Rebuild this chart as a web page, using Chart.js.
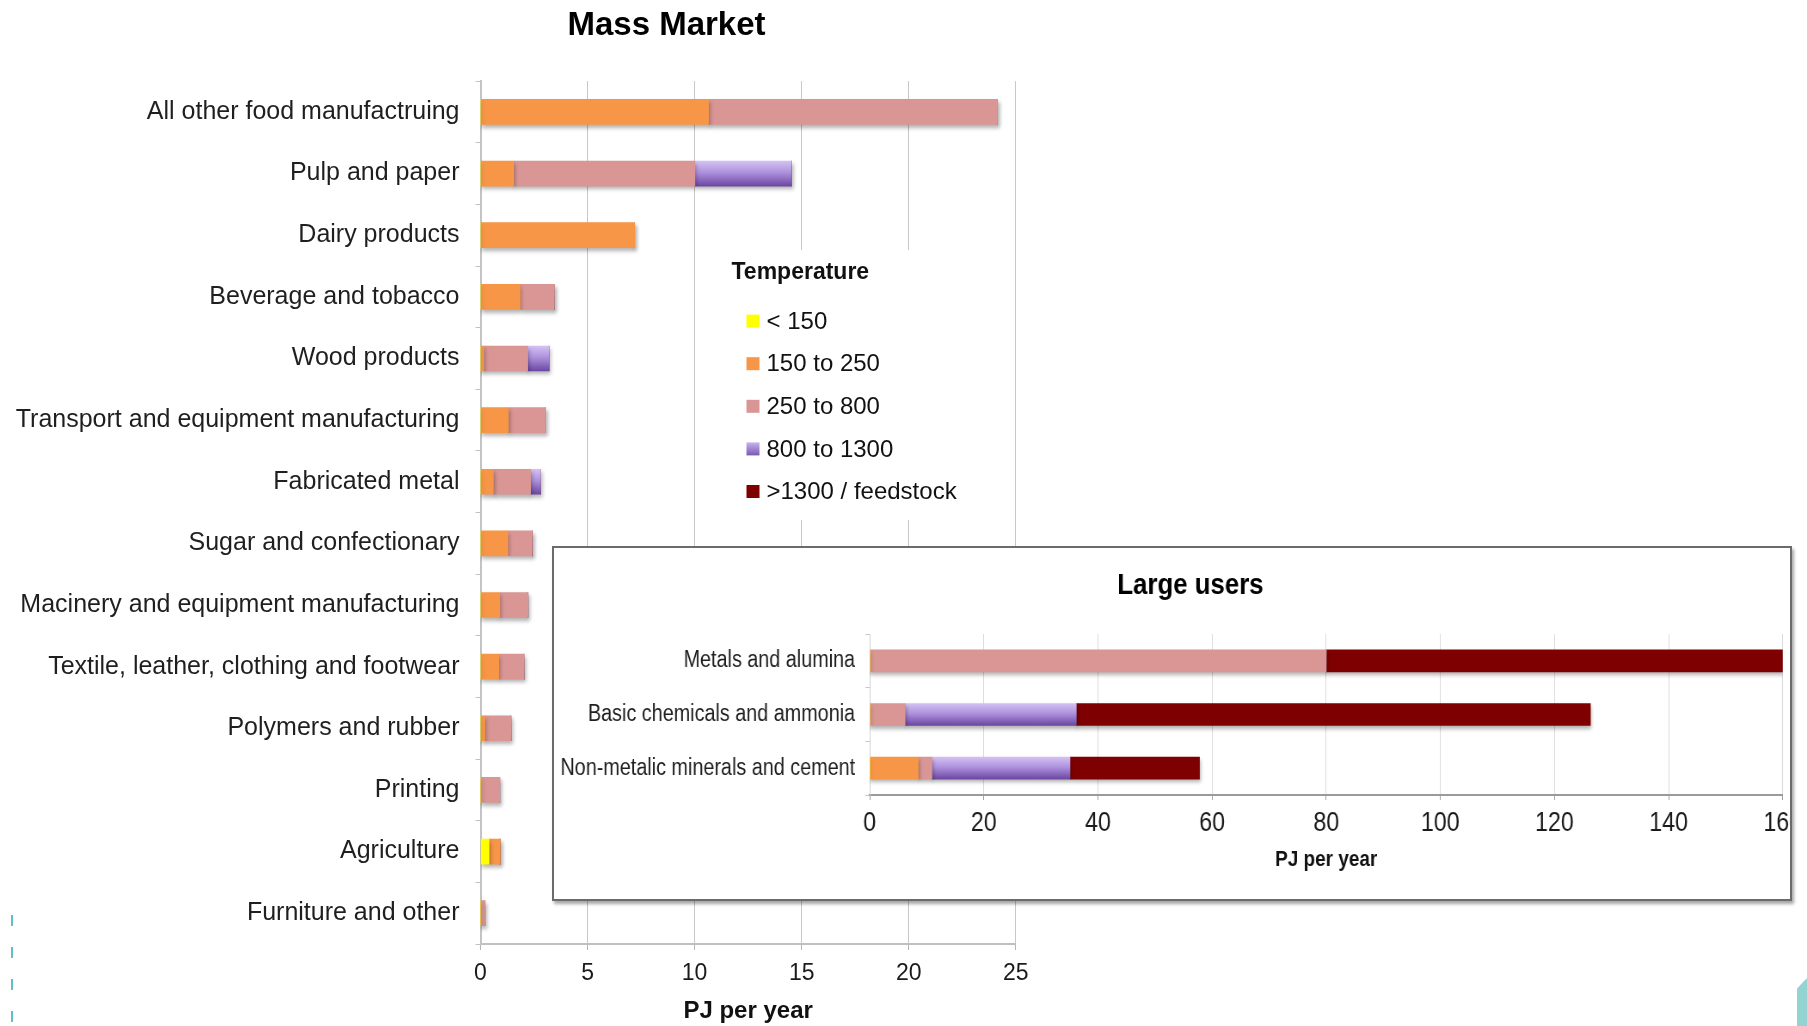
<!DOCTYPE html>
<html>
<head>
<meta charset="utf-8">
<title>Process heat demand by temperature</title>
<script src="https://cdn.jsdelivr.net/npm/chart.js@4.4.1/dist/chart.umd.min.js"></script>
<style>
  html, body { margin: 0; padding: 0; background: #fff; }
  body { position: relative; width: 1807px; height: 1026px; overflow: hidden; }
  #massWrap { position: absolute; left: 0; top: 0; width: 1333px; height: 1026px; }
  #largeBox { position: absolute; left: 552px; top: 546px; width: 1236px; height: 351px;
              border: 2px solid #6b6b6b; background: #fff; overflow: hidden;
              box-shadow: 2px 3px 3px rgba(0,0,0,0.35); }
  #largeWrap { position: absolute; left: 0; top: 0; width: 1480px; height: 351px;
               transform: scaleX(0.86); transform-origin: 0 0; }
  .dash { position: absolute; left: 11px; top: 915px; width: 2px; height: 111px;
          background: repeating-linear-gradient(to bottom, #5fc0cc 0 11px, transparent 11px 32px); }
  .corner { position: absolute; left: 1797px; top: 978px; width: 10px; height: 48px;
            background: #93d4d2; clip-path: polygon(100% 0, 100% 100%, 0 100%, 0 22%); }
</style>
</head>
<body>
<div id="massWrap"><canvas id="massChart"></canvas></div>
<div id="largeBox"><div id="largeWrap"><canvas id="largeChart"></canvas></div></div>
<div class="dash"></div>
<div class="corner"></div>
<script>
// Temperature bands (degrees C)
const tempBands = ['< 150', '150 to 250', '250 to 800', '800 to 1300', '>1300 / feedstock'];

// Mass market sectors, PJ per year
const massCategories = [
  'All other food manufactruing', 'Pulp and paper', 'Dairy products', 'Beverage and tobacco',
  'Wood products', 'Transport and equipment manufacturing', 'Fabricated metal',
  'Sugar and confectionary', 'Macinery and equipment manufacturing',
  'Textile, leather, clothing and footwear', 'Polymers and rubber', 'Printing',
  'Agriculture', 'Furniture and other'
];
const massBelow150   = [0,     0,    0,   0,    0,    0,    0,    0,    0,    0,    0,    0,   0.40, 0];
const mass150to250   = [10.65, 1.55, 7.2, 1.85, 0.15, 1.30, 0.60, 1.28, 0.90, 0.85, 0.20, 0,   0.52, 0];
const mass250to800   = [13.5,  8.46, 0,   1.60, 2.05, 1.74, 1.74, 1.14, 1.31, 1.18, 1.22, 0.9, 0,    0.2];
const mass800to1300  = [0,     4.50, 0,   0,    1.00, 0,    0.46, 0,    0,    0,    0,    0,   0,    0];
const massAbove1300  = [0,     0,    0,   0,    0,    0,    0,    0,    0,    0,    0,    0,   0,    0];

// Large users, PJ per year
const largeCategories = ['Metals and alumina', 'Basic chemicals and ammonia', 'Non-metalic minerals and cement'];
const largeBelow150  = [0,  0,    0];
const large150to250  = [0,  0,    8.5];
const large250to800  = [80, 6.2,  2.4];
const large800to1300 = [0,  30.0, 24.2];
const largeAbove1300 = [80, 90.1, 22.7];

const massSeries  = [massBelow150, mass150to250, mass250to800, mass800to1300, massAbove1300];
const largeSeries = [largeBelow150, large150to250, large250to800, large800to1300, largeAbove1300];

const FONT = "'Liberation Sans', Arial, Helvetica, sans-serif";
const palette = ['#ffff00', '#f79646', '#d99694', null, '#7f0000'];

// vertical lavender-to-violet fill for the 800-1300 band
function violetFill(thickness) {
  return function (ctx) {
    const chart = ctx.chart;
    const y = chart.scales && chart.scales.y;
    if (!y || ctx.type !== 'data' || !isFinite(y.getPixelForValue(ctx.dataIndex))) return '#9b80cf';
    const c = y.getPixelForValue(ctx.dataIndex);
    const g = chart.ctx.createLinearGradient(0, c - thickness / 2, 0, c + thickness / 2);
    g.addColorStop(0, '#d3c1f3');
    g.addColorStop(0.45, '#ae92dd');
    g.addColorStop(1, '#6c47a3');
    return g;
  };
}

function buildDatasets(series, thickness) {
  return series.map((values, i) => ({
    label: tempBands[i],
    data: values,
    backgroundColor: palette[i] || violetFill(thickness),
    borderWidth: 0,
    barThickness: thickness
  }));
}

// soft drop shadow under the bars
const barShadow = {
  id: 'barShadow',
  beforeDatasetsDraw(chart) {
    const c = chart.ctx;
    c.save();
    c.shadowColor = 'rgba(0,0,0,0.3)';
    c.shadowBlur = 4;
    c.shadowOffsetX = 1;
    c.shadowOffsetY = 3;
  },
  afterDatasetsDraw(chart) { chart.ctx.restore(); }
};

// "Temperature" key drawn inside the plot, on a white panel
const temperatureKey = {
  id: 'temperatureKey',
  beforeDatasetsDraw(chart) {
    const c = chart.ctx;
    const a = chart.chartArea;
    const left = a.left + 251, top = a.top + 192;
    c.save();
    c.fillStyle = '#fff';
    c.fillRect(a.left + 224, a.top + 169, 307, 270);
    c.textBaseline = 'middle';
    c.textAlign = 'left';
    c.fillStyle = '#111';
    c.font = 'bold 23px ' + FONT;
    c.fillText('Temperature', left, top);
    c.font = '24px ' + FONT;
    chart.data.datasets.forEach((ds, i) => {
      const cy = top + 48 + i * 42.6;
      const sx = left + 15;
      if (i === 3) {
        const g = c.createLinearGradient(0, cy - 6.5, 0, cy + 6.5);
        g.addColorStop(0, '#c7b2ee');
        g.addColorStop(1, '#7b58b3');
        c.fillStyle = g;
      } else {
        c.fillStyle = palette[i];
      }
      c.fillRect(sx, cy - 6.5, 13, 13);
      c.fillStyle = '#111';
      c.fillText(ds.label, sx + 20, cy + 1);
    });
    c.restore();
  }
};

new Chart(document.getElementById('massChart'), {
  type: 'bar',
  data: { labels: massCategories, datasets: buildDatasets(massSeries, 25) },
  plugins: [temperatureKey, barShadow],
  options: {
    indexAxis: 'y',
    responsive: true,
    maintainAspectRatio: false,
    animation: false,
    layout: { padding: 0 },
    plugins: {
      legend: { display: false },
      tooltip: { enabled: false },
      title: {
        display: true, text: 'Mass Market', color: '#000',
        font: { family: FONT, size: 33, weight: 'bold' },
        padding: { top: 6, bottom: 35.5 }
      }
    },
    scales: {
      x: {
        stacked: true, min: 0, max: 25,
        ticks: { stepSize: 5, color: '#1a1a1a', padding: 10, font: { family: FONT, size: 23 } },
        grid: { color: '#c8c8c8', lineWidth: 1, tickLength: 6, tickColor: '#b5b5b5' },
        border: { color: '#c0c0c0', width: 2 },
        title: { display: true, text: 'PJ per year', color: '#111',
                 font: { family: FONT, size: 24, weight: 'bold' }, padding: { top: 0, bottom: 0 } },
        afterFit(s) { s.height = 82; }
      },
      y: {
        stacked: true,
        ticks: { color: '#1f1f1f', padding: 16, font: { family: FONT, size: 25 } },
        grid: { drawOnChartArea: false, tickLength: 5, color: '#c0c0c0' },
        border: { color: '#c4c4c4', width: 2 },
        afterFit(s) { s.width = 480.5; }
      },
      yRight: {
        type: 'category', position: 'right', display: true,
        grid: { display: false }, ticks: { display: false }, border: { display: false },
        afterFit(s) { s.width = 317.2; }
      }
    }
  }
});

new Chart(document.getElementById('largeChart'), {
  type: 'bar',
  data: { labels: largeCategories, datasets: buildDatasets(largeSeries, 22) },
  plugins: [barShadow],
  options: {
    indexAxis: 'y',
    responsive: true,
    maintainAspectRatio: false,
    animation: false,
    layout: { padding: 0 },
    plugins: {
      legend: { display: false },
      tooltip: { enabled: false },
      title: {
        display: true, text: 'Large users', color: '#000',
        font: { family: FONT, size: 30, weight: 'bold' },
        padding: { top: 20, bottom: 30 }
      }
    },
    scales: {
      x: {
        stacked: true, min: 0, max: 160,
        ticks: { stepSize: 20, color: '#1a1a1a', padding: 7, font: { family: FONT, size: 27 } },
        grid: { color: '#d9d9d9', lineWidth: 1, tickLength: 5, tickColor: '#9a9a9a' },
        border: { color: '#9a9a9a', width: 2 },
        title: { display: true, text: 'PJ per year', color: '#111',
                 font: { family: FONT, size: 22, weight: 'bold' }, padding: { top: 0, bottom: 26 } },
        afterFit(s) { s.height = 104; }
      },
      y: {
        stacked: true,
        ticks: { color: '#1f1f1f', padding: 12, font: { family: FONT, size: 23 } },
        grid: { drawOnChartArea: false, tickLength: 5, color: '#c8c8c8' },
        border: { color: '#cfcfcf', width: 1 },
        afterFit(s) { s.width = 367.1; }
      },
      yRight: {
        type: 'category', position: 'right', display: true,
        grid: { display: false }, ticks: { display: false }, border: { display: false },
        afterFit(s) { s.width = 51.3; }
      }
    }
  }
});
</script>
</body>
</html>
